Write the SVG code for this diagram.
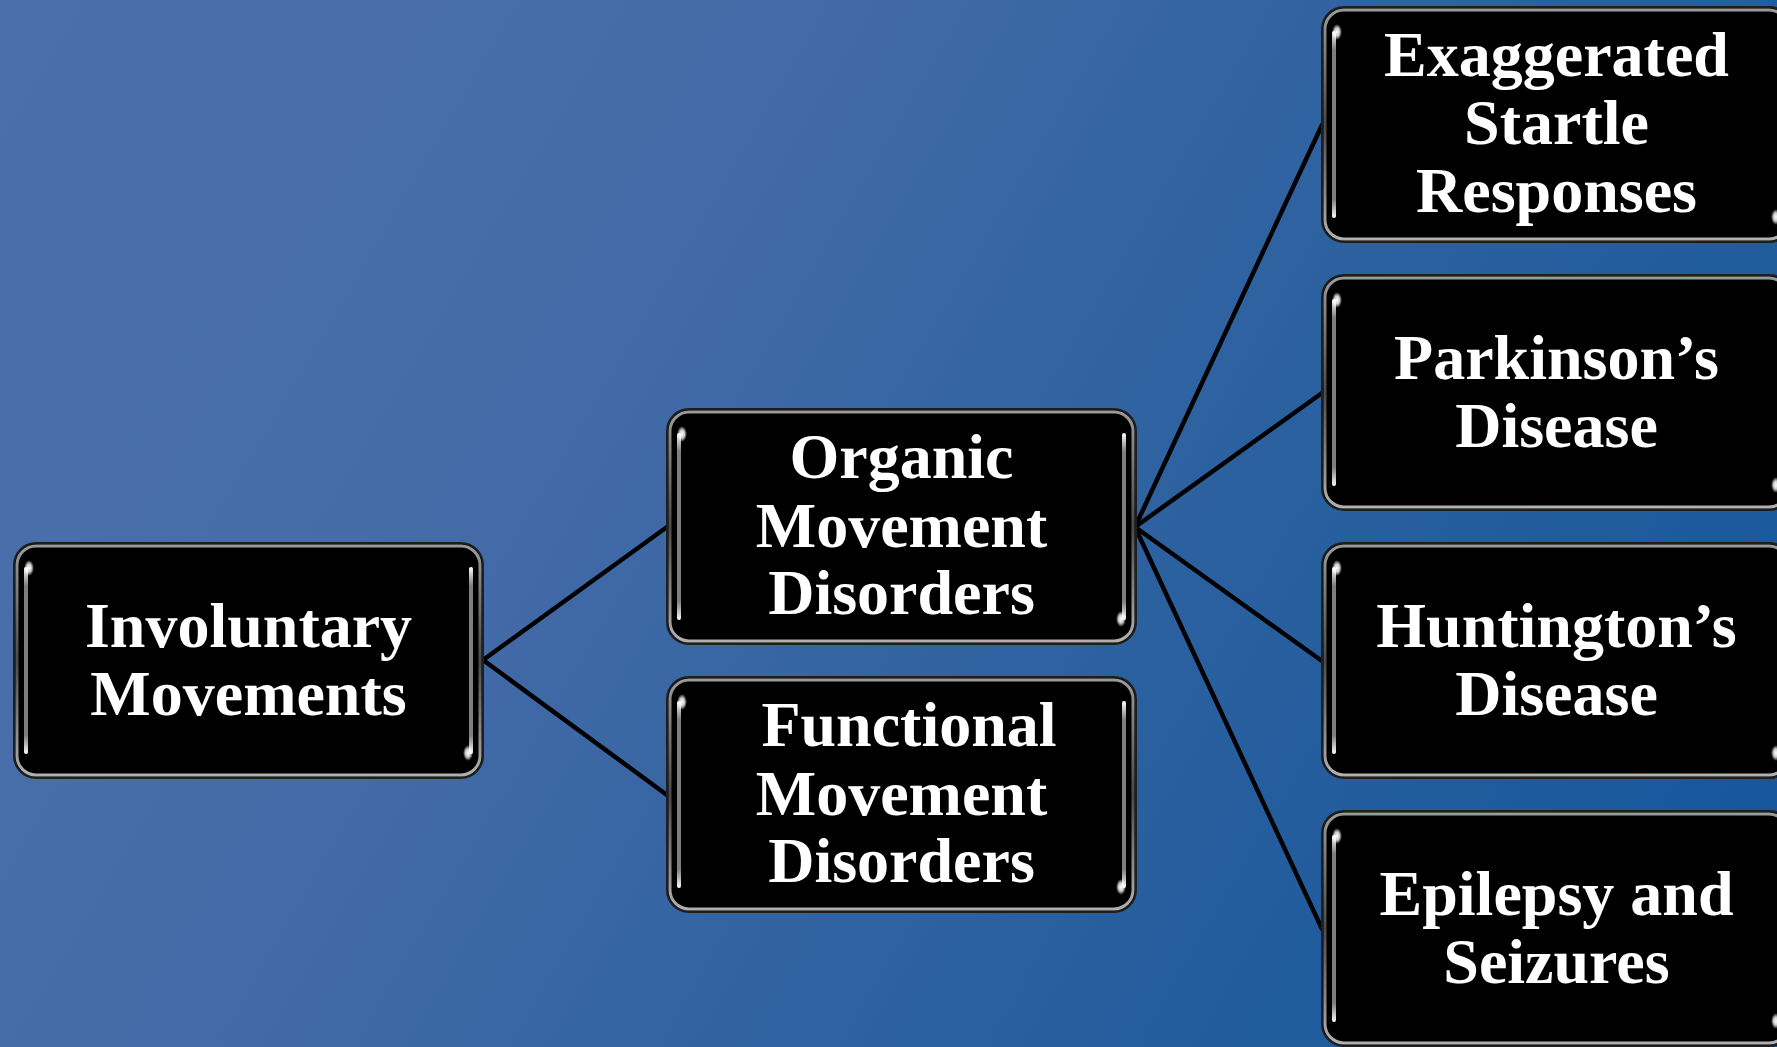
<svg xmlns="http://www.w3.org/2000/svg" xmlns:xlink="http://www.w3.org/1999/xlink" width="1777" height="1047" viewBox="0 0 1777 1047">
<defs>
<linearGradient id="bg" gradientUnits="userSpaceOnUse" x1="0" y1="0" x2="1777" y2="1047">
<stop offset="0" stop-color="#4b6fa9"/>
<stop offset="0.3" stop-color="#466ca8"/>
<stop offset="0.65" stop-color="#2a609f"/>
<stop offset="1" stop-color="#12559b"/>
</linearGradient>
<linearGradient id="ring" x1="0" y1="0" x2="0" y2="1">
<stop offset="0" stop-color="#9a9a9a"/>
<stop offset="0.5" stop-color="#4a4a4a"/>
<stop offset="1" stop-color="#b0b0b0"/>
</linearGradient>
<linearGradient id="side" x1="0" y1="0" x2="0" y2="1">
<stop offset="0" stop-color="#ffffff" stop-opacity="1"/>
<stop offset="0.1" stop-color="#8c8c8c" stop-opacity="0.9"/>
<stop offset="0.9" stop-color="#8c8c8c" stop-opacity="0.9"/>
<stop offset="1" stop-color="#ffffff" stop-opacity="1"/>
</linearGradient>
<radialGradient id="spot">
<stop offset="0" stop-color="#ffffff"/>
<stop offset="0.5" stop-color="#ffffff" stop-opacity="0.8"/>
<stop offset="1" stop-color="#ffffff" stop-opacity="0"/>
</radialGradient>
<g id="box">
<rect x="0" y="0" width="469" height="235" rx="22" fill="#000" stroke="#1e1e1e" stroke-width="2"/>
<rect x="3" y="3" width="463" height="229" rx="19" fill="none" stroke="url(#ring)" stroke-width="3"/>
<rect x="6" y="6" width="457" height="223" rx="16" fill="#000"/>
<rect x="10" y="24" width="4" height="187" rx="2" fill="url(#side)"/>
<rect x="455" y="24" width="4" height="187" rx="2" fill="url(#side)"/>
<ellipse cx="15" cy="25" rx="5" ry="8" fill="url(#spot)"/>
<ellipse cx="454" cy="210" rx="5" ry="8" fill="url(#spot)"/>
</g>
</defs>
<style>
.t{font-family:"Liberation Serif","Times New Roman",serif;font-weight:bold;font-size:64px;fill:#fff;text-anchor:middle}
.c{stroke:#000;stroke-width:4.5;fill:none;stroke-linecap:round}
</style>
<rect x="0" y="0" width="1777" height="1047" fill="url(#bg)"/>
<g id="connectors">
<line class="c" x1="483" y1="660" x2="667" y2="527"/>
<line class="c" x1="483" y1="660" x2="667" y2="795"/>
<line class="c" x1="1135" y1="527" x2="1322" y2="125"/>
<line class="c" x1="1135" y1="527" x2="1322" y2="393"/>
<line class="c" x1="1135" y1="527" x2="1322" y2="661"/>
<line class="c" x1="1135" y1="527" x2="1322" y2="929"/>
</g>
<g id="involuntary" transform="translate(14,543)">
<use xlink:href="#box"/>
<text class="t" x="234.5" y="104">Involuntary</text>
<text class="t" x="234.5" y="172">Movements</text>
</g>
<g id="organic" transform="translate(667,409)">
<use xlink:href="#box"/>
<text class="t" x="234.5" y="69">Organic</text>
<text class="t" x="234.5" y="138">Movement</text>
<text class="t" x="234.5" y="205">Disorders</text>
</g>
<g id="functional" transform="translate(667,677)">
<use xlink:href="#box"/>
<text class="t" x="242" y="69">Functional</text>
<text class="t" x="234.5" y="138">Movement</text>
<text class="t" x="234.5" y="205">Disorders</text>
</g>
<g id="exaggerated" transform="translate(1322,7)">
<use xlink:href="#box"/>
<text class="t" x="234.5" y="69">Exaggerated</text>
<text class="t" x="234.5" y="137">Startle</text>
<text class="t" x="234.5" y="205">Responses</text>
</g>
<g id="parkinsons" transform="translate(1322,275)">
<use xlink:href="#box"/>
<text class="t" x="234.5" y="104">Parkinson’s</text>
<text class="t" x="234.5" y="172">Disease</text>
</g>
<g id="huntingtons" transform="translate(1322,543)">
<use xlink:href="#box"/>
<text class="t" x="234.5" y="104">Huntington’s</text>
<text class="t" x="234.5" y="172">Disease</text>
</g>
<g id="epilepsy" transform="translate(1322,811)">
<use xlink:href="#box"/>
<text class="t" x="234.5" y="104">Epilepsy and</text>
<text class="t" x="234.5" y="172">Seizures</text>
</g>
</svg>
